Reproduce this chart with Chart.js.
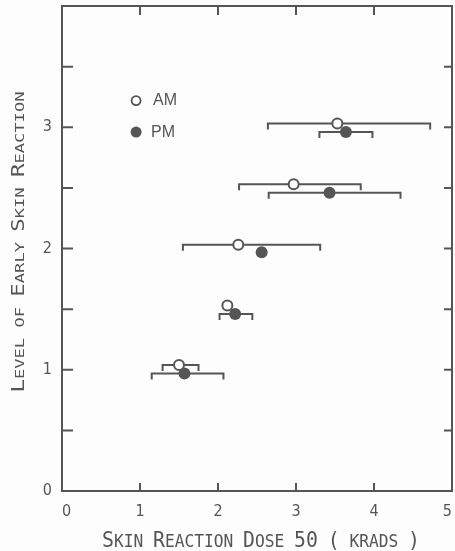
<!DOCTYPE html>
<html>
<head>
<meta charset="utf-8">
<script src="https://cdn.jsdelivr.net/npm/chart.js@4"></script>
<style>
  html, body { margin: 0; padding: 0; background: #fdfdfd; }
  #wrap { width: 455px; height: 551px; }
</style>
</head>
<body>
<div id="wrap"><canvas id="myChart" width="455" height="551"></canvas></div>
<script>
// data
const amDose  = [3.53, 2.97, 2.26, 2.12, 1.50];
const amLevel = [3.03, 2.53, 2.03, 1.53, 1.04];
const amLow   = [2.64, 2.27, 1.55, null, 1.29];
const amHigh  = [4.72, 3.83, 3.31, null, 1.75];

const pmDose  = [3.64, 3.43, 2.56, 2.22, 1.57];
const pmLevel = [2.96, 2.46, 1.97, 1.46, 0.97];
const pmLow   = [3.30, 2.65, null, 2.02, 1.15];
const pmHigh  = [3.98, 4.34, null, 2.44, 2.07];

const xTicks = [0, 1, 2, 3, 4, 5];
const yTicks = [0, 1, 2, 3];

const ink = '#555555';

function pts(xs, ys, lo, hi) {
    let out = [];
    xs.forEach((x, i) => out.push({ x: x, y: ys[i], lo: lo[i], hi: hi[i] }));
    return out;
}

// small caps text: capitals big, lower case drawn as smaller capitals
function smallCaps(ctx, text, big, small, family, targetW) {
    let parts = [];
    let w = 0;
    for (const ch of text) {
        const isSmall = ch !== ch.toUpperCase() || ch === ' ';
        const size = isSmall ? small : big;
        ctx.font = size + 'px ' + family;
        const c = ch.toUpperCase();
        const cw = ctx.measureText(c).width;
        parts.push({ c: c, size: size, w: cw });
        w += cw;
    }
    const sx = targetW / w;
    ctx.save();
    ctx.scale(sx, 1);
    let x = -w / 2;
    parts.forEach(p => {
        ctx.font = p.size + 'px ' + family;
        ctx.fillText(p.c, x, 0);
        x += p.w;
    });
    ctx.restore();
}

function noPad(s) {
    s.paddingLeft = 0;
    s.paddingRight = 0;
    s.paddingTop = 0;
    s.paddingBottom = 0;
}

const framePlugin = {
    id: 'frame',
    afterDatasetsDraw(chart) {
        const { ctx, chartArea: a, scales: { x, y } } = chart;
        ctx.save();
        ctx.strokeStyle = ink;
        ctx.lineWidth = 2;
        ctx.strokeRect(a.left, a.top, a.right - a.left, a.bottom - a.top);
        // inward ticks
        ctx.beginPath();
        [1, 2, 3, 4].forEach(v => {
            const px = x.getPixelForValue(v);
            ctx.moveTo(px, a.bottom); ctx.lineTo(px, a.bottom - 8);
            ctx.moveTo(px, a.top); ctx.lineTo(px, a.top + 9);
        });
        [0.5, 1, 1.5, 2, 2.5, 3, 3.5].forEach(v => {
            const py = y.getPixelForValue(v);
            ctx.moveTo(a.left, py); ctx.lineTo(a.left + 11, py);
            ctx.moveTo(a.right, py); ctx.lineTo(a.right - 8, py);
        });
        ctx.stroke();

        // legend
        const lx = x.getPixelForValue(0.95);
        const ly1 = y.getPixelForValue(3.22);
        const ly2 = y.getPixelForValue(2.96);
        ctx.lineWidth = 1.8;
        ctx.beginPath();
        ctx.arc(lx, ly1, 4.5, 0, Math.PI * 2);
        ctx.fillStyle = '#ffffff';
        ctx.fill();
        ctx.stroke();
        ctx.beginPath();
        ctx.arc(lx, ly2, 5.5, 0, Math.PI * 2);
        ctx.fillStyle = ink;
        ctx.fill();
        ctx.font = '16px "Liberation Sans", Arial, sans-serif';
        ctx.textBaseline = 'middle';
        ctx.textAlign = 'left';
        ctx.fillText('AM', lx + 17, ly1);
        ctx.fillText('PM', lx + 15, ly2);

        // axis titles
        ctx.textBaseline = 'alphabetic';
        ctx.textAlign = 'left';
        ctx.save();
        ctx.translate(a.left + 199, 547);
        smallCaps(ctx, 'Skin Reaction Dose 50 ( krads )', 22, 18, '"DejaVu Sans Mono", monospace', 318);
        ctx.restore();
        ctx.save();
        ctx.translate(24, 242);
        ctx.rotate(-Math.PI / 2);
        smallCaps(ctx, 'Level of Early Skin Reaction', 17, 13, '"DejaVu Sans Mono", monospace', 301);
        ctx.restore();
        ctx.restore();
    }
};

const errorBars = {
    id: 'errorBars',
    beforeDatasetsDraw(chart) {
        const { ctx, scales: { x, y } } = chart;
        ctx.save();
        ctx.strokeStyle = ink;
        ctx.lineWidth = 2;
        chart.data.datasets.forEach(ds => {
            ds.data.forEach(p => {
                if (p.lo == null) return;
                const py = y.getPixelForValue(p.y);
                const x1 = x.getPixelForValue(p.lo);
                const x2 = x.getPixelForValue(p.hi);
                ctx.beginPath();
                ctx.moveTo(x1, py + 6);
                ctx.lineTo(x1, py);
                ctx.lineTo(x2, py);
                ctx.lineTo(x2, py + 6);
                ctx.stroke();
            });
        });
        ctx.restore();
    }
};

const ctx = document.getElementById('myChart');

new Chart(ctx, {
    type: 'scatter',
    data: {
        datasets: [{
            label: 'AM',
            data: pts(amDose, amLevel, amLow, amHigh),
            pointStyle: 'circle',
            pointRadius: 5,
            pointBorderWidth: 2,
            pointBackgroundColor: '#ffffff',
            pointBorderColor: ink
        }, {
            label: 'PM',
            data: pts(pmDose, pmLevel, pmLow, pmHigh),
            pointStyle: 'circle',
            pointRadius: 6,
            pointBorderWidth: 0,
            pointBackgroundColor: ink,
            pointBorderColor: ink
        }]
    },
    options: {
        responsive: false,
        animation: false,
        layout: { autoPadding: false, padding: { top: 6, right: 3, left: 0, bottom: 0 } },
        plugins: {
            legend: { display: false },
            tooltip: { enabled: false }
        },
        scales: {
            x: {
                type: 'linear',
                min: 0,
                max: 5,
                afterFit: s => { s.height = 60; noPad(s); },
                afterBuildTicks: s => { s.ticks = xTicks.map(v => ({ value: v })); },
                grid: { display: false, drawTicks: false },
                border: { display: false },
                ticks: {
                    padding: 11,
                    align: 'inner',
                    color: ink,
                    font: { family: '"DejaVu Sans Condensed", "Liberation Sans Narrow", "DejaVu Sans", sans-serif', size: 16 },
                    callback: v => String(v)
                }
            },
            y: {
                type: 'linear',
                min: 0,
                max: 4,
                afterFit: s => { s.width = 62; noPad(s); },
                afterBuildTicks: s => { s.ticks = yTicks.map(v => ({ value: v })); },
                grid: { display: false, drawTicks: false },
                border: { display: false },
                ticks: {
                    padding: 10,
                    color: ink,
                    font: { family: '"DejaVu Sans Condensed", "Liberation Sans Narrow", "DejaVu Sans", sans-serif', size: 16 },
                    callback: v => String(v)
                }
            }
        }
    },
    plugins: [errorBars, framePlugin]
});
</script>
</body>
</html>
